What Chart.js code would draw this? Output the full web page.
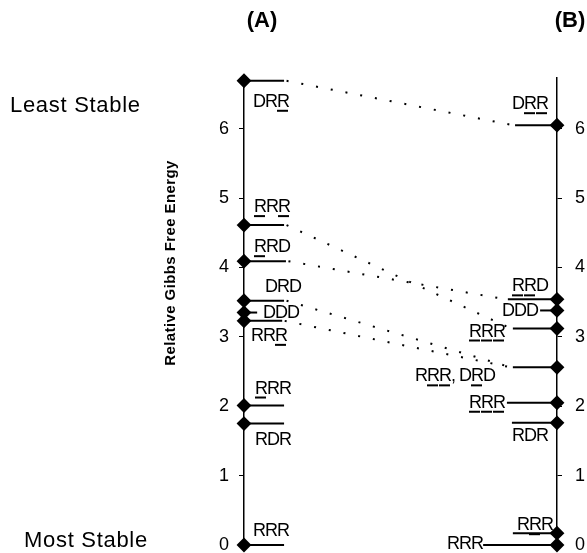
<!DOCTYPE html>
<html>
<head>
<meta charset="utf-8">
<script src="https://cdn.jsdelivr.net/npm/chart.js@4.4.1/dist/chart.umd.min.js"></script>
<style>
    html, body { margin: 0; padding: 0; background: #ffffff; }
    canvas { display: block; }
</style>
</head>
<body>
<canvas id="graficoEnergias" width="587" height="553"></canvas>
<script>
// Relative Gibbs free energies of the conformers, set (A) and set (B)
const labelsA = ["DRR", "RRR", "RRD", "DRD", "DDD", "RRR", "RRR", "RDR", "RRR"];
const marksA  = ["001", "101", "100", "000", "000", "001", "100", "000", "000"];   // 1 = underlined letter
const energyA = [6.69, 4.61, 4.09, 3.52, 3.35, 3.23, 2.01, 1.75, 0];

const labelsB = ["DRR", "RRD", "DDD", "RRR", "RRR, DRD", "RRR", "RDR", "RRR", "RRR"];
const marksB  = ["011", "110", "000", "111", "01100010", "111", "000", "010", "000"];
const energyB = [6.05, 3.54, 3.38, 3.12, 2.56, 2.05, 1.76, 0.17, 0];

// dotted correlation lines: [index in A, index in B]
const links = [[0, 0], [1, 3], [2, 1], [3, 4], [5, 4]];

const energyTicks = [0, 1, 2, 3, 4, 5, 6];

// layout only: bar extents (0 = axis A, 1 = axis B) and label offsets in px [dx, baseline dy]
const barEndA   = [0.128, 0.128, 0.134, 0.128, 0.042, 0.122, 0.128, 0.128, 0.128];
const barStartB = [0.866, 0.843, 0.946, 0.859, 0.859, 0.840, 0.856, 0.859, 0.764];
const textA = [[9, 26], [10, -13], [10, -9], [21, -9], [19, 5], [7, 20], [11, -12], [11, 21], [9, -9]];
const textB = [[-9, -16], [-9, -8], [-19, 6], [-52, 8], [-62, 14], [-52, 5], [-9, 18], [-4, -3], [-74, 4]];

const FONT = "'Liberation Sans', Arial, Helvetica, sans-serif";

function writeLabel(ctx, text, marks, x, base) {
    ctx.textAlign = "left";
    ctx.fillText(text, x, base);
    for (let k = 0; k < text.length; k++) {
        if (marks[k] !== "1") continue;
        const x0 = x + ctx.measureText(text.slice(0, k)).width;
        const w = ctx.measureText(text[k]).width - 1;
        ctx.fillRect(x0, base + 3, w, 2);
    }
}

const textPlugin = {
    id: "textPlugin",
    afterDraw(chart) {
        const ctx = chart.ctx;
        const yScale = chart.scales.y;
        const xA = chart.chartArea.left;
        const xB = chart.chartArea.right;
        ctx.save();
        ctx.fillStyle = "#000000";
        ctx.textBaseline = "alphabetic";

        // conformer labels
        ctx.font = "18px " + FONT;
        ctx.letterSpacing = "-1px";
        labelsA.forEach((t, i) => {
            const [dx, dy] = textA[i];
            writeLabel(ctx, t, marksA[i], xA + dx, yScale.getPixelForValue(energyA[i]) + dy);
        });
        labelsB.forEach((t, i) => {
            const [dx, dy] = textB[i];
            const w = ctx.measureText(t).width;
            writeLabel(ctx, t, marksB[i], xB + dx - w, yScale.getPixelForValue(energyB[i]) + dy);
        });

        // stability notes
        ctx.font = "22px " + FONT;
        ctx.letterSpacing = "0.7px";
        ctx.textAlign = "left";
        ctx.textBaseline = "middle";
        ctx.fillText("Least Stable", 10, 106);
        ctx.fillText("Most Stable", 24, 541);

        // panel titles
        ctx.font = "bold 22px " + FONT;
        ctx.letterSpacing = "0px";
        ctx.textAlign = "center";
        ctx.fillText("(A)", 262, 21);
        ctx.fillText("(B)", 570, 21);

        // axis title
        ctx.translate(171, 263);
        ctx.rotate(-Math.PI / 2);
        ctx.font = "bold 15px " + FONT;
        ctx.letterSpacing = "0.4px";
        ctx.fillText("Relative Gibbs Free Energy", 0, 0);
        ctx.restore();
    }
};

document.addEventListener("DOMContentLoaded", function () {
    const datasets = [];

    // dotted lines first, so the bars sit on top
    links.forEach(([a, b]) => {
        datasets.push({
            data: [{ x: barEndA[a] + 0.008, y: energyA[a] }, { x: barStartB[b] - 0.006, y: energyB[b] }],
            borderColor: "#000000",
            borderWidth: 2,
            borderDash: [2, 13],
            pointRadius: 0,
            fill: false,
            clip: false
        });
    });

    energyA.forEach((e, i) => {
        datasets.push({
            data: [{ x: 0, y: e }, { x: barEndA[i], y: e }],
            borderColor: "#000000",
            borderWidth: 2,
            pointStyle: "rectRot",
            pointRadius: [6, 0],
            pointBackgroundColor: "#000000",
            pointBorderColor: "#000000",
            fill: false,
            clip: false
        });
    });

    energyB.forEach((e, i) => {
        datasets.push({
            data: [{ x: barStartB[i], y: e }, { x: 1, y: e }],
            borderColor: "#000000",
            borderWidth: 2,
            pointStyle: "rectRot",
            pointRadius: [0, 6],
            pointBackgroundColor: "#000000",
            pointBorderColor: "#000000",
            fill: false,
            clip: false
        });
    });

    const tickFont = { family: FONT, size: 18 };

    const graficoEnergias = new Chart(
        document.getElementById("graficoEnergias"),
        {
            type: "line",
            data: { datasets: datasets },
            options: {
                responsive: false,
                animation: false,
                events: [],
                layout: { padding: { top: 78, bottom: 6, left: 0, right: 0 } },
                plugins: {
                    legend: { display: false },
                    tooltip: { enabled: false }
                },
                scales: {
                    x: { type: "linear", min: 0, max: 1, display: false },
                    y: {
                        position: "left",
                        min: 0,
                        max: 6.73,
                        afterBuildTicks: s => { s.ticks = energyTicks.map(v => ({ value: v })); },
                        afterFit: s => { s.width = 244; s.paddingTop = 0; s.paddingBottom = 0; },
                        ticks: { color: "#000000", font: tickFont, padding: 10 },
                        grid: { drawOnChartArea: false, tickLength: 5, color: "#000000", lineWidth: 1 },
                        border: { display: true, color: "#000000", width: 1.5 }
                    },
                    yB: {
                        position: "right",
                        min: 0,
                        max: 6.73,
                        afterBuildTicks: s => { s.ticks = energyTicks.map(v => ({ value: v })); },
                        afterFit: s => { s.width = 30; s.paddingTop = 0; s.paddingBottom = 0; },
                        ticks: { color: "#000000", font: tickFont, padding: 13 },
                        grid: { drawOnChartArea: false, tickLength: 5, color: "#000000", lineWidth: 1 },
                        border: { display: true, color: "#000000", width: 1.5 }
                    }
                }
            },
            plugins: [textPlugin]
        }
    );
});
</script>
</body>
</html>
